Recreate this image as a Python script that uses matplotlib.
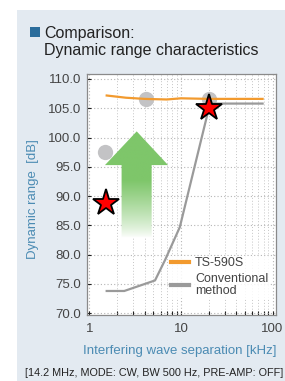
import numpy as np
import matplotlib
matplotlib.use('Agg')
import matplotlib.pyplot as plt
from matplotlib.patches import Rectangle, Polygon
from matplotlib.lines import Line2D
from matplotlib import font_manager

# data
ts_x = [1.5, 2.5, 4.0, 7.0, 10.0, 20.0, 80.0]
ts_y = [107.2, 106.8, 106.6, 106.5, 106.7, 106.6, 106.6]
conv_x = [1.5, 2.4, 5.2, 6.7, 9.7, 20.0, 21.0, 80.0]
conv_y = [73.8, 73.8, 75.6, 79.1, 84.7, 104.8, 105.8, 105.8]
circle_x = [1.48, 4.1, 20.0]
circle_y = [97.5, 106.5, 106.5]
star_x = [1.5, 20.0]
star_y = [88.9, 105.0]
yticks = [70, 75, 80, 85, 90, 95, 100, 105, 110]
xticks = [1, 10, 100]

names = {f.name for f in font_manager.fontManager.ttflist}
main_font = 'Liberation Sans' if 'Liberation Sans' in names else 'DejaVu Sans'
plt.rcParams['font.family'] = [main_font, 'DejaVu Sans']

W, H = 285, 381
fig = plt.figure(figsize=(W / 100, H / 100), dpi=100)
fig.patch.set_facecolor('white')

# light panel behind everything
fig.patches.append(Rectangle((17 / W, 0), 1 - 17 / W, 1 - 10 / H, transform=fig.transFigure,
                             facecolor='#e3eaf1', edgecolor='none', zorder=-2))

# title
fig.patches.append(Rectangle((30 / W, 1 - 37 / H), 10 / W, 10 / H, transform=fig.transFigure,
                             facecolor='#2b6d9c', edgecolor='none', zorder=-1))
fig.text(44 / W, 1 - 38 / H, 'Comparison:', fontsize=11.5, color='#222222', va='baseline')
fig.text(44 / W, 1 - 55 / H, 'Dynamic range characteristics', fontsize=11.5, color='#222222',
         va='baseline')

ax = fig.add_axes([87 / W, (H - 315) / H, (276 - 87) / W, (315 - 74) / H])
ax.set_zorder(1)
ax.set_facecolor('white')
ax.set_xscale('log')

# green gradient arrow (axes fraction coords)
arrow = Polygon([(0.183, 0.323), (0.183, 0.622), (0.095, 0.622), (0.263, 0.762),
                 (0.429, 0.622), (0.342, 0.622), (0.342, 0.323)],
                closed=True, transform=ax.transAxes, facecolor='none', edgecolor='none')
ax.add_patch(arrow)
n = 200
t = np.linspace(0, 1, n)[:, None]  # 0 bottom .. 1 top
a = np.clip((t - 0.32) / 0.24, 0, 1) ** 0.8
green = np.array([126, 198, 106]) / 255
rgb = (1 - a)[..., None] * np.ones(3) + a[..., None] * green
img = np.repeat(rgb, 2, axis=1)
im = ax.imshow(img, extent=[0, 1, 0, 1], transform=ax.transAxes, origin='lower',
               aspect='auto', zorder=2.7, interpolation='bilinear')
im.set_clip_path(arrow)
ax.set_xlim(0.94, 109)
ax.set_ylim(69.7, 110.85)

ax.plot(ts_x, ts_y, color='#f29a2e', lw=1.6, zorder=3, solid_capstyle='butt')
ax.plot(conv_x, conv_y, color='#9a9a9a', lw=1.6, zorder=3, solid_capstyle='butt')
ax.plot(circle_x, circle_y, 'o', ms=11, color='#c3c3c5', mec='none', zorder=2.5)
ax.plot(star_x, star_y, '*', ms=20, color='#ff0000', mec='black', mew=1.3, zorder=4)

ax.set_yticks(yticks)
ax.set_yticklabels(['%.1f' % v for v in yticks])
ax.set_xticks(xticks)
ax.set_xticklabels([str(v) for v in xticks])
ax.tick_params(axis='both', which='major', direction='in', length=3, width=0.8,
               labelsize=9.5, colors='#222222', labelcolor='#444444')
ax.tick_params(axis='x', which='major', pad=6)
ax.tick_params(axis='y', which='major', pad=4)
ax.tick_params(axis='x', which='minor', direction='in', length=3, width=0.8, color='#222222',
               labelbottom=False)
ax.tick_params(top=False, right=False, which='both')
ax.grid(True, which='major', ls=(0, (1, 2)), color='#b5b5b5', lw=0.8)
ax.grid(True, which='minor', axis='x', ls=(0, (1, 2)), color='#c5c5c5', lw=0.7)
ax.set_axisbelow(True)
for s in ax.spines.values():
    s.set_color('#8a8a8a')
    s.set_linewidth(0.9)

handles = [Line2D([], [], color='#f29a2e', lw=3), Line2D([], [], color='#9a9a9a', lw=3)]
leg = ax.legend(handles, ['TS-590S', 'Conventional\nmethod'], loc='upper left',
                bbox_to_anchor=(0.44, 0.245), frameon=True, fontsize=9, handlelength=1.4,
                handletextpad=0.5, labelspacing=0.3, borderaxespad=0, borderpad=0.1,
                fancybox=False)
leg.get_frame().set_facecolor('white')
leg.get_frame().set_edgecolor('none')
leg.get_frame().set_alpha(0.85)
for txt in leg.get_texts():
    txt.set_color('#444444')
    txt.set_linespacing(0.95)

fig.text(33 / W, 1 - 199 / H, 'Dynamic range  [dB]', rotation=90, fontsize=9.5,
         color='#4b8bb3', ha='center', va='center')
fig.text(180 / W, 1 - 351 / H, 'Interfering wave separation [kHz]', fontsize=9.5,
         color='#4b8bb3', ha='center', va='center')
fig.text(154 / W, 1 - 373 / H, '[14.2 MHz, MODE: CW, BW 500 Hz, PRE-AMP: OFF]', fontsize=7.8,
         color='#222222', ha='center', va='center')

fig.savefig('out.png', dpi=100)
